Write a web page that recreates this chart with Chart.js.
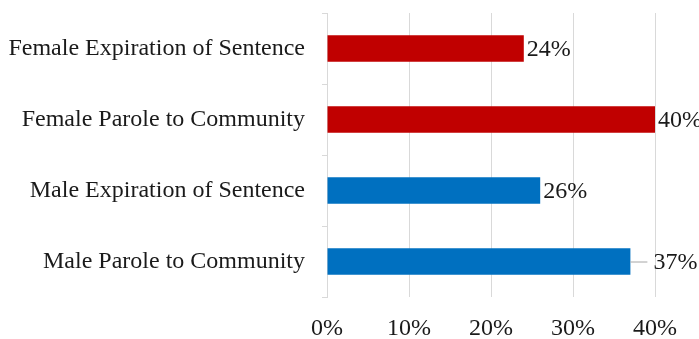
<!DOCTYPE html>
<html>
<head>
<meta charset="utf-8">
<script src="https://cdn.jsdelivr.net/npm/chart.js@4"></script>
<style>
  html, body { margin: 0; padding: 0; background: #fff; }
  #wrap { width: 699px; height: 339px; }
</style>
</head>
<body>
<div id="wrap"><canvas id="chart" width="699" height="339"></canvas></div>
<script>
// data
var categories = ['Female Expiration of Sentence', 'Female Parole to Community', 'Male Expiration of Sentence', 'Male Parole to Community'];
var percents = [24, 40, 26, 37];
var barColors = ['#C00000', '#C00000', '#0070C0', '#0070C0'];
var xTicks = [0, 10, 20, 30, 40];

var FONT = "'Liberation Serif', 'Times New Roman', serif";

// value labels at the end of each bar, with a short leader where the label was pulled out
var barLabels = {
  id: 'barLabels',
  afterDatasetsDraw: function(chart, args, opts) {
    var ctx = chart.ctx;
    var meta = chart.getDatasetMeta(0);
    ctx.save();
    ctx.font = '24px ' + FONT;
    ctx.fillStyle = '#1a1a1a';
    ctx.textBaseline = 'middle';
    ctx.textAlign = 'left';
    meta.data.forEach(function(bar, i) {
      var gap = opts.leaders[i] || opts.pad;
      if (opts.leaders[i]) {
        ctx.strokeStyle = '#a6a6a6';
        ctx.lineWidth = 1;
        ctx.beginPath();
        ctx.moveTo(bar.x, bar.y + 0.5);
        ctx.lineTo(bar.x + gap - 6, bar.y + 0.5);
        ctx.stroke();
      }
      ctx.fillText(percents[i] + '%', bar.x + gap, bar.y + 1);
    });
    ctx.restore();
  }
};

var ctx = document.getElementById('chart').getContext('2d');
var myChart = new Chart(ctx, {
  type: 'bar',
  data: {
    labels: categories,
    datasets: [{
      data: percents,
      backgroundColor: barColors,
      borderWidth: 0,
      barPercentage: 0.37,
      categoryPercentage: 1
    }]
  },
  options: {
    indexAxis: 'y',
    responsive: false,
    animation: false,
    layout: { padding: { top: 13, right: 44, left: 0, bottom: 0 } },
    plugins: {
      legend: { display: false },
      tooltip: { enabled: false },
      barLabels: { pad: 3, leaders: { 3: 23 } }
    },
    scales: {
      x: {
        min: 0,
        max: 40,
        afterBuildTicks: function(axis) {
          axis.ticks = xTicks.map(function(v) { return { value: v }; });
        },
        afterFit: function(axis) {
          axis.height = 42;
          axis.paddingLeft = 0;
          axis.paddingRight = 0;
        },
        grid: { color: '#d9d9d9', drawTicks: false, lineWidth: 1 },
        border: { display: false },
        ticks: {
          padding: 17,
          color: '#1a1a1a',
          font: { family: FONT, size: 24 },
          callback: function(v) { return v + '%'; }
        }
      },
      y: {
        afterFit: function(axis) {
          axis.width = 327;
          axis.paddingTop = 0;
          axis.paddingBottom = 0;
        },
        grid: { drawOnChartArea: false, color: '#d9d9d9', tickLength: 5 },
        border: { display: true, color: '#d9d9d9' },
        ticks: {
          padding: 17,
          color: '#1a1a1a',
          font: { family: FONT, size: 24 }
        }
      }
    }
  },
  plugins: [barLabels]
});
</script>
</body>
</html>
